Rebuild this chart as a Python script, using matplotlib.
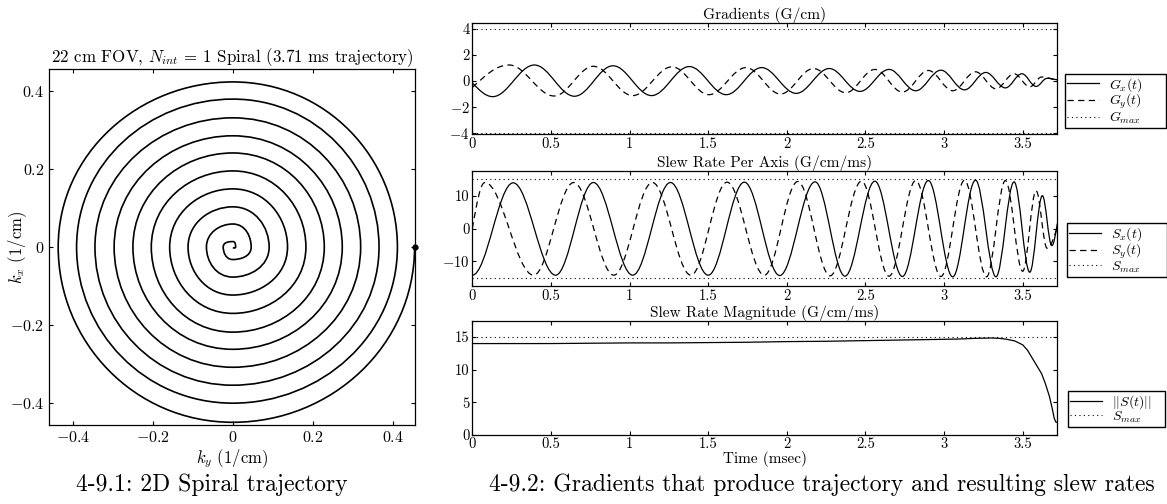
import numpy as np
import matplotlib
matplotlib.use('Agg')
import matplotlib.pyplot as plt
from matplotlib.path import Path
from matplotlib.patches import PathPatch
from matplotlib.lines import Line2D

# k-space radius (1/cm) at every quarter turn, starting at +ky and winding clockwise inward
spiral_r = [0.455, 0.449, 0.437, 0.423,
            0.412, 0.400, 0.391, 0.379,
            0.366, 0.354, 0.345, 0.331,
            0.320, 0.308, 0.297, 0.285,
            0.274, 0.262, 0.250, 0.241,
            0.229, 0.218, 0.204, 0.195,
            0.183, 0.170, 0.158, 0.149,
            0.137, 0.123, 0.112, 0.103,
            0.091, 0.077, 0.066, 0.059,
            0.046, 0.032, 0.024, 0.014,
            0.007, 0.002]

# gradient turning points (ms, G/cm)
gx_t = [0.0, 0.13, 0.395, 0.65, 0.895, 1.14, 1.38, 1.615, 1.84, 2.06, 2.27, 2.465,
        2.65, 2.82, 2.98, 3.13, 3.265, 3.39, 3.495, 3.585, 3.655, 3.72]
gx_v = [-0.15, -1.2, 1.22, -1.17, 1.16, -1.12, 1.1, -1.05, 1.02, -0.95, 0.95, -0.8,
        0.88, -0.75, 0.82, -0.68, 0.65, -0.53, 0.55, -0.42, 0.2, 0.08]
gy_t = [0.0, 0.235, 0.52, 0.77, 1.02, 1.27, 1.505, 1.74, 1.96, 2.17, 2.375, 2.56,
        2.735, 2.9, 3.055, 3.2, 3.33, 3.445, 3.545, 3.62, 3.72]
gy_v = [-0.5, 1.22, -1.15, 1.12, -1.12, 1.08, -1.05, 1.02, -1.0, 0.95, -0.9, 0.88,
        -0.85, 0.8, -0.75, 0.7, -0.6, 0.55, -0.45, 0.3, 0.0]

# slew rate turning points (ms, G/cm/ms)
sx_t = [0.0, 0.26, 0.53, 0.77, 1.02, 1.26, 1.5, 1.73, 1.955, 2.18, 2.37, 2.56,
        2.735, 2.9, 3.055, 3.2, 3.33, 3.445, 3.545, 3.625, 3.685, 3.72]
sx_v = [-14.2, 13.9, -14.2, 14.0, -14.2, 14.0, -14.2, 14.1, -14.3, 14.2, -14.5, 14.4,
        -14.6, 14.6, -14.7, 14.7, -14.7, 14.2, -13.3, 10.0, -5.2, 1.5]
sy_t = [0.0, 0.08, 0.39, 0.645, 0.9, 1.145, 1.39, 1.62, 1.857, 2.07, 2.275, 2.475,
        2.65, 2.82, 2.98, 3.13, 3.27, 3.39, 3.5, 3.585, 3.655, 3.72]
sy_v = [0.0, 14.0, -14.2, 14.0, -14.2, 14.0, -14.2, 14.1, -14.2, 14.3, -14.4, 14.4,
        -14.5, 14.6, -14.6, 14.7, -14.7, 14.6, -13.0, 11.5, -6.0, 0.5]

# slew rate magnitude
smag_t = [0.0, 0.25, 0.5, 0.75, 1.0, 1.25, 1.5, 1.75, 2.0, 2.25, 2.5, 2.75, 3.0,
          3.1, 3.2, 3.3, 3.35, 3.4, 3.45, 3.5, 3.53, 3.56, 3.59, 3.62, 3.645,
          3.67, 3.69, 3.70, 3.71, 3.72]
smag_v = [14.0, 14.0, 14.0, 14.05, 14.1, 14.1, 14.15, 14.2, 14.3, 14.35, 14.45,
          14.55, 14.65, 14.7, 14.8, 14.85, 14.8, 14.65, 14.4, 13.8, 13.0, 11.8,
          10.6, 9.4, 7.8, 5.9, 3.8, 2.6, 2.0, 1.9]

g_max = 4
s_max = 15

k_ticks = [-0.4, -0.2, 0, 0.2, 0.4]
k_labels = ['$-0.4$', '$-0.2$', '$0$', '$0.2$', '$0.4$']
t_ticks = [0, 0.5, 1, 1.5, 2, 2.5, 3, 3.5]
t_labels = ['0', '0.5', '1', '1.5', '2', '2.5', '3', '3.5']

plt.rcParams['font.family'] = 'cmr10'
plt.rcParams['mathtext.fontset'] = 'cm'
plt.rcParams['axes.unicode_minus'] = False
plt.rcParams['axes.formatter.use_mathtext'] = True
plt.rcParams['xtick.direction'] = 'in'
plt.rcParams['ytick.direction'] = 'in'
plt.rcParams['xtick.top'] = True
plt.rcParams['ytick.right'] = True
plt.rcParams['xtick.major.size'] = 3
plt.rcParams['ytick.major.size'] = 3
plt.rcParams['axes.linewidth'] = 0.9
plt.rcParams['font.size'] = 10.5

DASHED = (0, (5, 3.5))
DOTTED = (0, (1, 3))


def wave_path(ts, vs, handle=0.36):
    """Cubic Bezier path through turning points (flat tangents at the extrema)."""
    n = len(ts)

    def end_slope(i, j):
        if abs(vs[i]) < abs(vs[j]):
            return 1.5 * (vs[j] - vs[i]) / (ts[j] - ts[i])
        return 0.0

    verts = [(ts[0], vs[0])]
    codes = [Path.MOVETO]
    for i in range(n - 1):
        t0, t1 = ts[i], ts[i + 1]
        v0, v1 = vs[i], vs[i + 1]
        dt = t1 - t0
        m0 = end_slope(0, 1) if i == 0 else 0.0
        m1 = end_slope(n - 1, n - 2) if i + 1 == n - 1 else 0.0
        verts += [(t0 + handle * dt, v0 + m0 * handle * dt),
                  (t1 - handle * dt, v1 - m1 * handle * dt),
                  (t1, v1)]
        codes += [Path.CURVE4] * 3
    return Path(verts, codes)


def spiral_path(radii, c=0.5523):
    """Quarter-arc Bezier segments between successive axis crossings (clockwise)."""
    ang = [-i * np.pi / 2 for i in range(len(radii))]
    pts = [(r * np.cos(a), r * np.sin(a)) for r, a in zip(radii, ang)]
    tan = [(np.sin(a), -np.cos(a)) for a in ang]
    verts = [pts[0]]
    codes = [Path.MOVETO]
    for i in range(len(radii) - 1):
        p0, p3 = pts[i], pts[i + 1]
        r0, r1 = radii[i], radii[i + 1]
        verts += [(p0[0] + c * r0 * tan[i][0], p0[1] + c * r0 * tan[i][1]),
                  (p3[0] - c * r1 * tan[i + 1][0], p3[1] - c * r1 * tan[i + 1][1]),
                  p3]
        codes += [Path.CURVE4] * 3
    return Path(verts, codes)


def boxed_legend(ax, handles, labels, x0, y0, w):
    return ax.legend(handles=handles, labels=labels, loc='lower left',
                     bbox_to_anchor=(x0, y0, w, 0.5), mode='expand', borderaxespad=0,
                     fancybox=False, edgecolor='k', framealpha=1, fontsize=10,
                     handlelength=2.3, handletextpad=0.7, labelspacing=-0.12,
                     borderpad=0.15)


fig = plt.figure(figsize=(11.67, 5.04), dpi=100)

# --- k-space trajectory ---
ax0 = fig.add_axes([0.0420, 0.1567, 0.3136, 0.7063])
ax0.add_patch(PathPatch(spiral_path(spiral_r), facecolor='none', edgecolor='k', lw=1.2))
ax0.plot([spiral_r[0]], [0], 'o', color='k', ms=3.5, clip_on=False)
ax0.set_xlim(-0.46, 0.456)
ax0.set_ylim(-0.456, 0.456)
ax0.set_xticks(k_ticks, k_labels)
ax0.set_yticks(k_ticks, k_labels)
ax0.tick_params(labelsize=11.5)
ax0.set_xlabel('$k_y$ (1/cm)', fontsize=12, labelpad=2)
ax0.set_ylabel('$k_x$ (1/cm)', fontsize=12)
ax0.yaxis.set_label_coords(-0.055, 0.5)
ax0.set_title('22 cm FOV, $N_{int}$ = 1 Spiral (3.71 ms trajectory)', fontsize=12.2, pad=2)

left, width = 0.4047, 0.5013
ax1 = fig.add_axes([left, 0.7335, width, 0.2214])
ax2 = fig.add_axes([left, 0.4325, width, 0.2282])
ax3 = fig.add_axes([left, 0.1369, width, 0.2268])

solid = Line2D([], [], color='k', lw=0.9)
dashed = Line2D([], [], color='k', lw=0.9, linestyle=DASHED)
dotted = Line2D([], [], color='k', lw=0.8, linestyle=DOTTED)

# --- gradients ---
ax1.add_patch(PathPatch(wave_path(gx_t, gx_v), facecolor='none', edgecolor='k', lw=0.9))
ax1.add_patch(PathPatch(wave_path(gy_t, gy_v), facecolor='none', edgecolor='k', lw=0.9,
                        linestyle=DASHED))
ax1.axhline(g_max, color='k', lw=0.8, linestyle=DOTTED)
ax1.axhline(-g_max, color='k', lw=0.8, linestyle=DOTTED)
ax1.set_ylim(-4.08, 4.45)
ax1.set_yticks([-4, -2, 0, 2, 4], ['$-4$', '$-2$', '0', '2', '4'])
ax1.set_title('Gradients (G/cm)', fontsize=11.1, pad=2)
boxed_legend(ax1, [solid, dashed, dotted], ['$G_x(t)$', '$G_y(t)$', '$G_{max}$'],
             1.013, 0.056, 0.173)

# --- slew rate per axis ---
ax2.add_patch(PathPatch(wave_path(sx_t, sx_v), facecolor='none', edgecolor='k', lw=0.9))
ax2.add_patch(PathPatch(wave_path(sy_t, sy_v), facecolor='none', edgecolor='k', lw=0.9,
                        linestyle=DASHED))
ax2.axhline(s_max, color='k', lw=0.8, linestyle=DOTTED)
ax2.axhline(-s_max, color='k', lw=0.8, linestyle=DOTTED)
ax2.set_ylim(-17.5, 17.5)
ax2.set_yticks([-10, 0, 10], ['$-10$', '0', '10'])
ax2.set_title('Slew Rate Per Axis (G/cm/ms)', fontsize=11.1, pad=2)
boxed_legend(ax2, [solid, dashed, dotted], ['$S_x(t)$', '$S_y(t)$', '$S_{max}$'],
             1.017, 0.081, 0.170)

# --- slew rate magnitude ---
ax3.plot(smag_t, smag_v, color='k', lw=0.9)
ax3.axhline(s_max, color='k', lw=0.8, linestyle=DOTTED)
ax3.set_ylim(0, 17.5)
ax3.set_yticks([0, 5, 10, 15], ['0', '5', '10', '15'])
ax3.set_title('Slew Rate Magnitude (G/cm/ms)', fontsize=11.1, pad=2)
ax3.set_xlabel('Time (msec)', fontsize=11, labelpad=0)
boxed_legend(ax3, [solid, dotted], ['$||S(t)||$', '$S_{max}$'], 1.018, 0.073, 0.166)

for ax in (ax1, ax2, ax3):
    ax.set_xlim(0, 3.72)
    ax.set_xticks(t_ticks, t_labels)
    ax.tick_params(pad=2)

fig.text(212 / 1167, 1 - 485 / 504, '4-9.1: 2D Spiral trajectory', ha='center', va='center',
         fontsize=17)
fig.text(822 / 1167, 1 - 485 / 504, '4-9.2: Gradients that produce trajectory and resulting slew rates',
         ha='center', va='center', fontsize=17)

fig.savefig('out.png', dpi=100)
